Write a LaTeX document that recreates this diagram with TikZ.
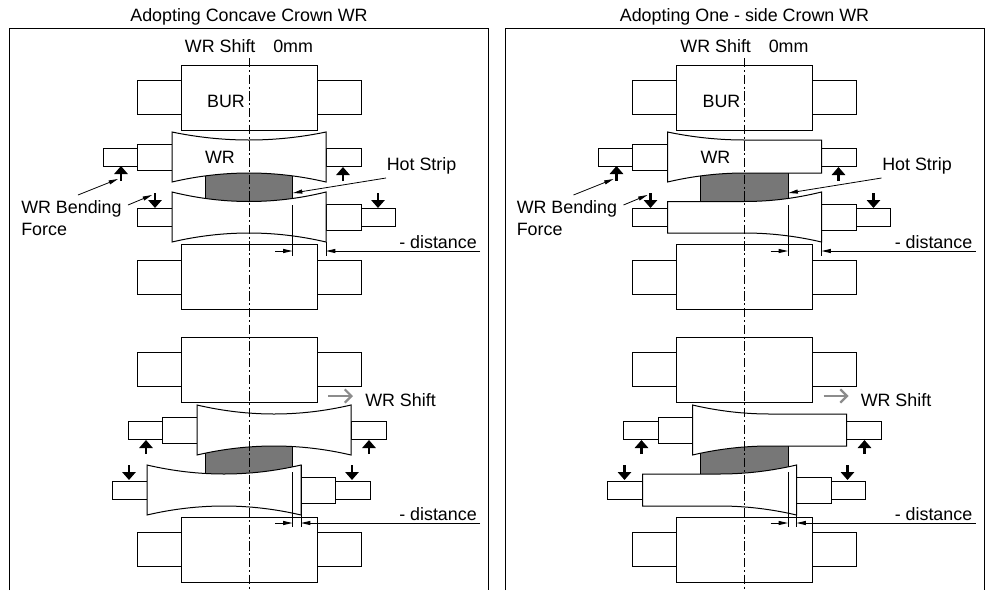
\documentclass[tikz,border=0pt]{standalone}
\usepackage{fontspec}
\setmainfont{Liberation Sans}
\usetikzlibrary{arrows.meta}
\definecolor{stripgray}{HTML}{777777}
\definecolor{shiftgray}{HTML}{8C8C8C}
\tikzset{
  part/.style={draw=black,fill=white,line width=0.75pt,line join=miter},
  strip/.style={draw=black,fill=stripgray,line width=0.75pt},
  frameline/.style={draw=black,line width=0.75pt},
  axisline/.style={draw=black,line width=0.75pt,dash pattern=on 7pt off 2pt on 1.5pt off 2pt},
  force/.style={draw=black,line width=1.6pt,-{Triangle[width=10pt,length=6pt]}},
  shiftarrow/.style={draw=shiftgray,line width=1.6pt,-{Straight Barb[length=5pt,width=10pt]}},
  leader/.style={draw=black,line width=0.6pt,-{Triangle[width=3pt,length=7pt]}},
  dimline/.style={draw=black,line width=0.75pt},
  dimarrow/.style={draw=black,line width=0.75pt,-{Triangle[width=3pt,length=7pt]}},
  lbl/.style={font=\fontsize{13.4}{16.5}\selectfont,inner sep=0pt,text=black}
}
% concave roll: x0 x1 top-end top-centre bottom-end bottom-centre
\newcommand{\concaveroll}[6]{%
  \pgfmathsetmacro{\xa}{#1+(#2-#1)/3}\pgfmathsetmacro{\xb}{#2-(#2-#1)/3}%
  \pgfmathsetmacro{\ya}{#3+(#4-#3)*4/3}\pgfmathsetmacro{\yb}{#5+(#6-#5)*4/3}%
  \path[part] (#1,#3) .. controls (\xa,\ya) and (\xb,\ya) .. (#2,#3) -- (#2,#5)
     .. controls (\xb,\yb) and (\xa,\yb) .. (#1,#5) -- cycle;}
% one-side roll, flared at left
\newcommand{\leftroll}[6]{%
  \pgfmathsetmacro{\xm}{(#1+#2)/2}\pgfmathsetmacro{\xa}{#1+(#2-#1)/6}\pgfmathsetmacro{\xb}{#1+(#2-#1)/3}%
  \pgfmathsetmacro{\ya}{#3+(#4-#3)*2/3}\pgfmathsetmacro{\yb}{#5+(#6-#5)*2/3}%
  \path[part] (#1,#3) .. controls (\xa,\ya) and (\xb,#4) .. (\xm,#4) -- (#2,#4) -- (#2,#6) -- (\xm,#6)
     .. controls (\xb,#6) and (\xa,\yb) .. (#1,#5) -- cycle;}
% one-side roll, flared at right
\newcommand{\rightroll}[6]{%
  \pgfmathsetmacro{\xm}{(#1+#2)/2}\pgfmathsetmacro{\xa}{#2-(#2-#1)/6}\pgfmathsetmacro{\xb}{#2-(#2-#1)/3}%
  \pgfmathsetmacro{\ya}{#3+(#4-#3)*2/3}\pgfmathsetmacro{\yb}{#5+(#6-#5)*2/3}%
  \path[part] (#1,#4) -- (\xm,#4) .. controls (\xb,#4) and (\xa,\ya) .. (#2,#3) -- (#2,#5)
     .. controls (\xa,\yb) and (\xb,#6) .. (\xm,#6) -- (#1,#6) -- cycle;}
\newcommand{\bx}[4]{\path[part] (#1,#2) rectangle (#3,#4);}
\newcommand{\backup}[1]{% top y of backup roll
  \pgfmathsetmacro{\ba}{#1+15.5}\pgfmathsetmacro{\bb}{#1+49.5}\pgfmathsetmacro{\bc}{#1+65}%
  \bx{137}{\ba}{181}{\bb}\bx{317}{\ba}{361}{\bb}\bx{181}{#1}{317}{\bc}}
% common drawing: #1 title text, #2 top roll macro, #3 bottom roll macro
\newcommand{\panel}[3]{%
  \path[frameline] (9.5,590) -- (9.5,28) -- (488.5,28) -- (488.5,590);
  \node[lbl,anchor=base] (title) at (249,21.5) {#1};
  \node[lbl] (shift0) at (249,46) {WR Shift\hspace{1em}0mm};
  % upper stand
  \backup{65}
  \bx{103}{148}{137}{166}\bx{137}{144}{172}{170}\bx{326}{148}{361}{166}
  \bx{137}{208.5}{172}{226.5}\bx{326}{204}{361}{230}\bx{361}{208.5}{395}{226.5}
  \path[strip] (205,171) rectangle (292.5,203);
  #2{172}{326}{132}{140}{182}{173}
  #3{172}{326}{192}{201.5}{242}{233}
  \backup{244.5}
  \node[lbl] (bur) at (226,101) {BUR};
  \node[lbl] (wr) at (220,157) {WR};
  \node[lbl,anchor=west] (hot) at (386.5,166) {Hot Strip};
  \node[lbl,align=left,anchor=north west] (bend) at (21,200) {WR Bending\\Force};
  \path[force] (121,181) -- (121,166);
  \path[force] (343,181) -- (343,167);
  \path[force] (155,193) -- (155,208);
  \path[force] (378,193) -- (378,208);
  \coordinate (hottip) at (293,193);
  \coordinate (bendA) at (118,179);
  \coordinate (bendB) at (152,195);
  \coordinate (bendC) at (78,195);
  \coordinate (bendD) at (128,205);
  \path[leader] (386,178) -- (hottip);
  \path[leader] (bendC) -- (bendA);
  \path[leader] (bendD) -- (bendB);
  \path[dimline] (292.5,205) -- (292.5,256);
  \path[dimline] (326,242) -- (326,256);
  \coordinate (dA) at (275,251);\coordinate (dB) at (292.5,251);
  \coordinate (dC) at (480,251);\coordinate (dD) at (326,251);
  \path[dimarrow] (dA) -- (dB);
  \path[dimarrow] (dC) -- (dD);
  \node[lbl,anchor=east] (dist) at (477,242) {- distance};
  % lower stand
  \backup{337}
  \bx{128}{421}{162.5}{439}\bx{162.5}{417}{197}{443}\bx{351}{421}{386}{439}
  \bx{112}{481}{147}{499}\bx{301}{477}{335.5}{503}\bx{335.5}{481}{370}{499}
  \path[strip] (205,444) rectangle (292.5,476);
  #2{197}{351}{405}{414}{455}{446}
  #3{147}{301}{465}{474}{515}{506}
  \backup{517}
  \path[force] (146,454) -- (146,440);
  \path[force] (369,454) -- (369,440);
  \path[force] (129,465) -- (129,480);
  \path[force] (352,465) -- (352,480);
  \coordinate (sA) at (328,396);\coordinate (sB) at (353,396);
  \path[shiftarrow] (sA) -- (sB);
  \node[lbl,anchor=west] (wrs) at (365,400) {WR Shift};
  \path[dimline] (292.5,472) -- (292.5,527);
  \path[dimline] (301,465) -- (301,527);
  \coordinate (eA) at (275,523);\coordinate (eB) at (292.5,523);
  \coordinate (eC) at (480,523);\coordinate (eD) at (301,523);
  \path[dimarrow] (eA) -- (eB);
  \path[dimarrow] (eC) -- (eD);
  \node[lbl,anchor=east] (dist2) at (477,514) {- distance};
  \path[axisline] (249,58) -- (249,590);
}
\begin{document}
\begin{tikzpicture}[x=0.75pt,y=-0.75pt]
\useasboundingbox (0,0) rectangle (986,590);
\begin{scope}[name prefix=L-]
\panel{Adopting Concave Crown WR}{\concaveroll}{\concaveroll}
\end{scope}
\begin{scope}[shift={(495.5,0)},name prefix=R-]
\panel{Adopting One - side Crown WR}{\leftroll}{\rightroll}
\end{scope}
\end{tikzpicture}
\end{document}
